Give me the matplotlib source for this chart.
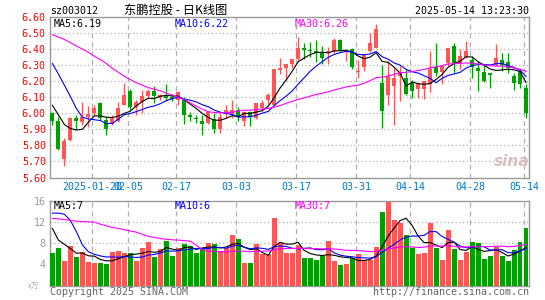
import numpy as np
import pandas as pd
import matplotlib
matplotlib.use("Agg")
import matplotlib.pyplot as plt

# 交易日 (去掉春节、清明、五一)
holidays = ["2025-01-28", "2025-01-29", "2025-01-30", "2025-01-31", "2025-02-03",
            "2025-02-04", "2025-04-04", "2025-05-01", "2025-05-02", "2025-05-05"]
dates = pd.bdate_range("2025-01-09", "2025-05-14", freq="C", holidays=holidays)

opens = [6.00, 5.95, 5.715, 5.836, 5.97, 5.945, 5.98, 6.00, 6.065, 5.96,
         5.935, 5.955, 6.054, 6.138, 6.04, 6.069, 6.106, 6.14, 6.096, 6.113,
         6.104, 6.083, 6.085, 5.99, 5.97, 5.95, 5.938, 5.963, 5.902, 5.996,
         5.996, 6.021, 5.95, 6.006, 5.972, 6.03, 6.083, 6.054, 6.267, 6.284,
         6.305, 6.336, 6.408, 6.392, 6.388, 6.375, 6.379, 6.388, 6.454, 6.38,
         6.398, 6.258, 6.288, 6.388, 6.408, 6.19, 6.117, 6.17, 6.231, 6.221,
         6.19, 6.154, 6.154, 6.183, 6.288, 6.258, 6.315, 6.419, 6.315, 6.35,
         6.335, 6.283, 6.258, 6.252, 6.30, 6.335, 6.321, 6.231, 6.263, 6.16]
highs = [6.005, 5.98, 5.845, 5.975, 5.99, 6.07, 6.045, 6.05, 6.07, 5.985,
         5.99, 6.07, 6.19, 6.152, 6.085, 6.144, 6.15, 6.17, 6.12, 6.183,
         6.12, 6.142, 6.10, 6.01, 5.99, 5.992, 6.012, 6.00, 6.002, 6.054,
         6.08, 6.038, 6.017, 6.017, 6.065, 6.08, 6.125, 6.275, 6.342, 6.31,
         6.34, 6.475, 6.44, 6.444, 6.455, 6.42, 6.41, 6.47, 6.46, 6.392,
         6.404, 6.335, 6.371, 6.502, 6.554, 6.304, 6.325, 6.283, 6.294, 6.273,
         6.21, 6.19, 6.20, 6.388, 6.44, 6.304, 6.408, 6.44, 6.398, 6.45,
         6.356, 6.325, 6.304, 6.252, 6.429, 6.377, 6.377, 6.252, 6.273, 6.18]
lows = [5.93, 5.77, 5.67, 5.83, 5.90, 5.925, 5.915, 5.985, 5.96, 5.865,
        5.93, 5.945, 6.05, 6.023, 5.99, 6.00, 6.09, 6.065, 6.08, 6.08,
        6.075, 6.05, 5.935, 5.955, 5.94, 5.867, 5.935, 5.877, 5.877, 5.97,
        5.97, 5.95, 5.919, 5.919, 5.965, 6.013, 6.06, 6.05, 6.246, 6.21,
        6.28, 6.325, 6.34, 6.35, 6.32, 6.305, 6.305, 6.378, 6.388, 6.325,
        6.273, 6.217, 6.263, 6.385, 6.404, 5.908, 6.054, 5.929, 6.075, 6.113,
        6.096, 6.096, 6.086, 6.134, 6.23, 6.18, 6.294, 6.252, 6.273, 6.346,
        6.221, 6.138, 6.196, 6.158, 6.294, 6.263, 6.252, 6.148, 6.158, 5.97]
closes = [5.955, 5.775, 5.83, 5.97, 5.95, 5.975, 5.995, 6.03, 5.97, 5.905,
          5.97, 6.035, 6.117, 6.04, 6.07, 6.106, 6.138, 6.105, 6.113, 6.096,
          6.088, 6.134, 5.99, 5.975, 5.963, 5.934, 6.008, 5.904, 5.975, 6.021,
          6.02, 5.975, 6.006, 5.975, 6.062, 6.063, 6.113, 6.273, 6.284, 6.305,
          6.336, 6.408, 6.392, 6.386, 6.375, 6.342, 6.387, 6.454, 6.392, 6.388,
          6.288, 6.262, 6.371, 6.44, 6.527, 6.017, 6.231, 6.221, 6.258, 6.121,
          6.142, 6.183, 6.20, 6.279, 6.252, 6.294, 6.408, 6.315, 6.356, 6.388,
          6.288, 6.263, 6.204, 6.238, 6.342, 6.304, 6.283, 6.19, 6.183, 6.00]
# 成交量 (万手)
volumes = [6.16, 7.1, 4.57, 7.43, 5.33, 6.35, 4.44, 4.25, 4.25, 4.06,
           6.35, 6.48, 6.16, 6.16, 4.63, 7.1, 8.19, 5.33, 6.92, 8.44,
           5.59, 7.1, 7.94, 7.43, 6.16, 6.86, 8.06, 7.94, 6.48, 7.1,
           9.52, 8.76, 4.3, 4.3, 7.94, 6.03, 6.03, 12.8, 8.1, 6.16,
           6.16, 7.6, 5.2, 5.2, 4.76, 5.59, 8.44, 4.63, 3.81, 4.06,
           5.2, 5.9, 4.76, 4.76, 7.3, 14.0, 15.9, 12.4, 11.9, 9.52,
           7.17, 5.9, 6.16, 11.9, 7.17, 4.76, 10.5, 6.86, 4.76, 6.35,
           8.19, 8.06, 4.95, 5.52, 7.3, 5.52, 4.63, 6.79, 8.19, 10.86]

# 均线开头几天 (依赖图外的历史数据, 从图上读)
ma5_head = [6.05, 5.99, 5.93, 5.905]
ma10_head = [6.31, 6.245, 6.175, 6.105, 6.03, 5.975, 5.965, 5.96, 5.955]
ma30_head = [6.49, 6.475, 6.46, 6.44, 6.42, 6.40, 6.38, 6.355, 6.335, 6.31,
             6.28, 6.255, 6.23, 6.21, 6.19, 6.175, 6.16, 6.15, 6.14, 6.125,
             6.115, 6.10, 6.085, 6.065, 6.045, 6.025, 6.01, 6.005, 6.003]
vma5_head = [10.8, 8.6, 7.8, 7.0]
vma10_head = [13.7, 13.7, 13.5, 12.3, 10.2, 7.7, 6.4, 5.9, 5.6]
vma30_head = [12.7, 12.6, 12.5, 12.3, 12.2, 12.1, 12.05, 12.0, 11.6, 11.3,
              11.0, 10.8, 10.6, 10.3, 10.1, 9.7, 9.3, 9.1, 8.9, 8.75,
              8.65, 8.6, 8.5, 8.4, 7.6, 6.8, 6.5, 6.45, 6.4]

tick_dates = ["2025-01-20", "2025-02-05", "2025-02-17", "2025-03-03", "2025-03-17",
              "2025-03-31", "2025-04-14", "2025-04-28", "2025-05-14"]
tick_labels = ["2025-01-20", "02-05", "02-17", "03-03", "03-17",
               "03-31", "04-14", "04-28", "05-14"]
price_ticks = [5.60, 5.70, 5.80, 5.90, 6.00, 6.10, 6.20, 6.30, 6.40, 6.50, 6.60]
vol_ticks = [4, 8, 12, 16]

ma_labels = ["MA5:6.19", "MA10:6.22", "MA30:6.26"]
vma_labels = ["MA5:7", "MA10:6", "MA30:7"]


def moving_avg(values, n, head):
    ma = pd.Series(values).rolling(n).mean().to_numpy()
    ma[:n - 1] = head
    return ma


opens = np.array(opens)
closes = np.array(closes)
highs = np.array(highs)
lows = np.array(lows)
volumes = np.array(volumes)
x = np.arange(len(dates))

RED = "#ff5555"
GREEN = "#00a000"
GRID = "#b0b0b0"
FRAME = "#999999"
MONO = "DejaVu Sans Mono"
FS = 7.2

cols = np.where(closes >= opens, RED, GREEN)
tick_pos = [dates.get_loc(pd.Timestamp(d)) - 0.33 for d in tick_dates]

fig = plt.figure(figsize=(5.45, 3.0), dpi=100)
W, H = 545.0, 300.0
ax = fig.add_axes([50 / W, 1 - 177.5 / H, 479 / W, 160.5 / H])
axv = fig.add_axes([50 / W, 1 - 285.5 / H, 479 / W, 84.5 / H])

# K线
ax.vlines(x, lows, highs, colors=cols, linewidth=0.9, zorder=3)
body_lo = np.minimum(opens, closes)
body_h = np.maximum(np.abs(closes - opens), 0.006)
ax.bar(x, body_h, bottom=body_lo, width=0.67, color=cols, linewidth=0, zorder=3)

ax.plot(x, moving_avg(closes, 5, ma5_head), color="black", lw=0.8, zorder=4)
ax.plot(x, moving_avg(closes, 10, ma10_head), color="#0000ff", lw=0.8, zorder=4)
ax.plot(x, moving_avg(closes, 30, ma30_head), color="#ff00ff", lw=0.8, zorder=4)

# 成交量
axv.bar(x, volumes, width=0.83, color=cols, linewidth=0, zorder=3)
axv.plot(x, moving_avg(volumes, 5, vma5_head), color="black", lw=0.8, zorder=4)
axv.plot(x, moving_avg(volumes, 10, vma10_head), color="#0000ff", lw=0.8, zorder=4)
axv.plot(x, moving_avg(volumes, 30, vma30_head), color="#ff00ff", lw=0.8, zorder=4)

for a in (ax, axv):
    a.set_xlim(-0.4, 79.5)
    for s in a.spines.values():
        s.set_color(FRAME)
        s.set_linewidth(1.0)
    for p in tick_pos:
        a.axvline(p, color=GRID, lw=0.9, ls=(0, (4, 3)), zorder=1)
    a.tick_params(length=0)

ax.set_ylim(5.60, 6.60)
for p in price_ticks[1:-1]:
    ax.axhline(p, color=GRID, lw=0.9, ls=(0, (1, 2)), zorder=1)
ax.set_yticks(price_ticks)
ax.set_yticklabels([f"{p:.2f}" for p in price_ticks], color="red",
                   fontfamily=MONO, fontsize=FS)
ax.tick_params(axis="y", pad=3)
ax.set_xticks(tick_pos)
ax.set_xticklabels(tick_labels, color="#0078c8", fontfamily=MONO, fontsize=FS)
ax.tick_params(axis="x", pad=3.5)

axv.set_ylim(0, 16)
for v in vol_ticks[1:-1]:
    axv.axhline(v, color=GRID, lw=0.9, ls=(0, (1, 2)), zorder=1)
axv.set_yticks(vol_ticks)
axv.set_yticklabels([str(v) for v in vol_ticks], color="#999999",
                    fontfamily=MONO, fontsize=FS)
axv.tick_params(axis="y", pad=3)
axv.set_xticks([])

# 文字
def ftext(px, py, s, **kw):
    kw.setdefault("fontfamily", MONO)
    kw.setdefault("fontsize", FS)
    kw.setdefault("va", "center")
    fig.text(px / W, 1 - py / H, s, **kw)


ftext(50, 11, "sz003012", color="black")
ftext(176, 10.5, "东鹏控股 - 日K线图", ha="center", fontsize=8.8,
      fontfamily=["Noto Sans CJK SC", "DejaVu Sans"], color="black")
ftext(529, 11, "2025-05-14 13:23:30", ha="right", color="black")

ma_colors = ["black", "#0000ff", "#ff00ff"]
for px, s, c in zip([54, 175, 295], ma_labels, ma_colors):
    ftext(px, 24, s, color=c)
for px, s, c in zip([54, 175, 295], vma_labels, ma_colors):
    ftext(px, 206, s, color=c)

ftext(50, 292, "Copyright 2025 SINA.COM", color="#666666")
ftext(529, 292, "http://finance.sina.com.cn", ha="right", color="#666666")
ftext(28, 287, "x万", fontsize=5.5, color="#aaaaaa",
      fontfamily=["Noto Sans CJK SC", "DejaVu Sans"])
ftext(512, 162, "sina", ha="center", fontsize=11, color="#d8c0c0",
      fontstyle="italic", fontweight="bold", fontfamily="DejaVu Sans")

fig.savefig("out.png", dpi=100)
